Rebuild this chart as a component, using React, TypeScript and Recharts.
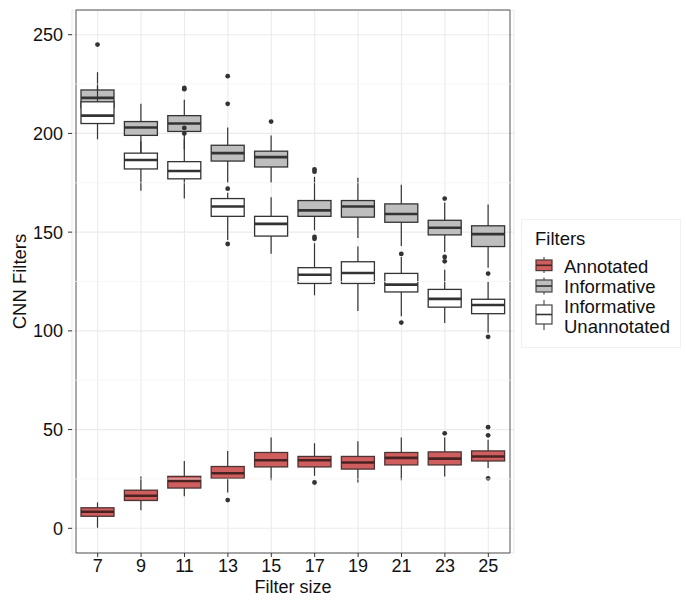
import React from "react";
import {
  ComposedChart,
  Bar,
  XAxis,
  YAxis,
  CartesianGrid,
  ReferenceLine,
  ReferenceArea,
} from "recharts";

// filter sizes on the x axis
const categories = ["7", "9", "11", "13", "15", "17", "19", "21", "23", "25"];

// five-number summaries: [lower whisker, q1, median, q3, upper whisker]
const annotated = [
  [0.3, 6.1, 8.4, 10.4, 13.1],
  [9.2, 14.1, 16.5, 19.3, 26.3],
  [16.2, 20.4, 24, 26.3, 34.1],
  [18.2, 25.3, 27.9, 31.3, 39.2],
  [24.4, 31.1, 34.5, 38.4, 46],
  [26.6, 31.1, 34.5, 36.4, 43.1],
  [23.2, 30, 33.3, 36.4, 44.1],
  [24.4, 32.1, 35.7, 38.4, 46],
  [26.3, 32.1, 35.3, 38.7, 46],
  [30.5, 34.1, 36.4, 39.2, 44.8],
];
const annotatedOut = [[], [], [], [14.3], [], [23.2], [], [], [48.1], [51.2, 47.1, 25.3]];

const informative = [
  [205, 213, 218, 222, 231],
  [190, 199, 203, 206, 215],
  [192, 201, 205, 209, 217],
  [175, 186, 190, 194, 203],
  [175, 183, 188, 191, 199],
  [151, 158, 161, 166, 178],
  [147, 157.6, 163, 166, 177.6],
  [143, 155, 159.2, 164.3, 174],
  [140, 148.6, 152.2, 156, 165],
  [132, 142.7, 149, 153.2, 164],
];
const informativeOut = [[245], [], [223, 222.4], [229, 215, 172], [206], [181.8, 180.6], [], [], [167, 137.4, 135.2], []];

const unannotated = [
  [197, 205, 209, 216, 224],
  [171, 182, 186.5, 190, 196],
  [167, 177, 181, 185.7, 197],
  [146, 158, 163, 167, 170],
  [139, 148, 154.2, 158, 167.7],
  [118, 124, 128.4, 132, 144.4],
  [110, 124, 129.3, 135, 142.7],
  [107.4, 119.7, 123.4, 129.1, 137.4],
  [104, 112, 116.2, 121, 131],
  [99, 108.7, 113.1, 116, 124.7],
];
const unannotatedOut = [[], [], [202.8, 200], [144], [], [146.6, 147.6], [], [139, 104.2], [], [129, 97]];

const yTicks = [0, 50, 100, 150, 200, 250];
const minorTicks = [25, 75, 125, 175, 225];

const data = categories.map((size, i) => ({
  size,
  a: annotated[i],
  aOut: annotatedOut[i],
  i: informative[i],
  iOut: informativeOut[i],
  u: unannotated[i],
  uOut: unannotatedOut[i],
}));

const FONT = '"Liberation Sans", Arial, Helvetica, sans-serif';

const makeBox = (key: string, fill: string, stroke: string, medianStroke: string) => (p: any) => {
  const s = p.payload[key];
  const out: number[] = p.payload[key + "Out"];
  const top = Math.min(p.y, p.y + p.height);
  const h = Math.abs(p.height);
  const per = h / (s[4] - s[0]);
  const py = (v: number) => top + (s[4] - v) * per;
  const cx = p.x + p.width / 2;
  return (
    <g>
      <line x1={cx} x2={cx} y1={py(s[4])} y2={py(s[0])} stroke="#333" strokeWidth={1.2} />
      <rect
        x={p.x}
        y={py(s[3])}
        width={p.width}
        height={py(s[1]) - py(s[3])}
        fill={fill}
        stroke={stroke}
        strokeWidth={1.3}
      />
      <line x1={p.x} x2={p.x + p.width} y1={py(s[2])} y2={py(s[2])} stroke={medianStroke} strokeWidth={2.6} />
      {out.map((v, k) => (
        <circle key={k} cx={cx} cy={py(v)} r={2.4} fill="#333" />
      ))}
    </g>
  );
};

const Legend = () => (
  <svg width={160} height={130} style={{ position: "absolute", left: 521, top: 219 }}>
    <rect x={0.5} y={0.5} width={159} height={128} fill="#fff" stroke="#f0f0f0" />
    <text x={14} y={25.6} fontSize={18.5} fill="#111">Filters</text>
    {/* annotated key */}
    <line x1={23} x2={23} y1={38} y2={54} stroke="#555" strokeWidth={1.2} />
    <rect x={15} y={41} width={16} height={10.6} fill="#CF5F5F" stroke="#4d3333" strokeWidth={1.2} />
    <line x1={15} x2={31} y1={46.3} y2={46.3} stroke="#4a2222" strokeWidth={1.6} />
    {/* informative key */}
    <line x1={23} x2={23} y1={58.5} y2={75.5} stroke="#555" strokeWidth={1.2} />
    <rect x={15} y={61} width={16} height={12} fill="#BEBEBE" stroke="#444" strokeWidth={1.2} />
    <line x1={15} x2={31} y1={67} y2={67} stroke="#333" strokeWidth={1.6} />
    {/* unannotated key */}
    <line x1={23} x2={23} y1={81} y2={111} stroke="#555" strokeWidth={1.2} />
    <rect x={15} y={86} width={16} height={19} fill="#fff" stroke="#444" strokeWidth={1.2} />
    <line x1={15} x2={31} y1={95.5} y2={95.5} stroke="#333" strokeWidth={1.6} />
    <text x={43} y={53.6} fontSize={18.5} fill="#111">Annotated</text>
    <text x={43} y={73.6} fontSize={18.5} fill="#111">Informative</text>
    <text x={43} y={93.6} fontSize={18.5} fill="#111">Informative</text>
    <text x={43} y={113.6} fontSize={18.5} fill="#111">Unannotated</text>
  </svg>
);

export default function App() {
  return (
    <div style={{ position: "relative", width: 686, height: 604, fontFamily: FONT, background: "#fff" }}>
      <style>{`body{margin:0}`}</style>
      <ComposedChart
        width={686}
        height={604}
        data={data}
        margin={{ top: 10, right: 172, bottom: 0, left: 0 }}
      >
        <CartesianGrid stroke="#EBEBEB" strokeWidth={1.1} xAxisId="a" />
        {minorTicks.map((t) => (
          <ReferenceLine key={t} y={t} xAxisId="a" stroke="#F3F3F3" strokeWidth={0.7} />
        ))}
        <XAxis
          xAxisId="a"
          dataKey="size"
          height={51}
          padding={{ left: 4, right: 4 }}
          axisLine={false}
          tickSize={4}
          tickMargin={2}
          tickLine={{ stroke: "#333" }}
          tick={{ fontSize: 18, fill: "#111" }}
          interval={0}
          label={{
            content: (lp: any) => {
              const vb = lp.viewBox;
              return (
                <text x={vb.x + vb.width / 2} y={593} textAnchor="middle" fontSize={18} fill="#111">
                  Filter size
                </text>
              );
            },
          }}
        />
        <XAxis xAxisId="i" dataKey="size" hide padding={{ left: 4, right: 4 }} />
        <XAxis xAxisId="u" dataKey="size" hide padding={{ left: 4, right: 4 }} />
        <YAxis
          type="number"
          width={72}
          domain={[-12.5, 262.5]}
          allowDataOverflow
          ticks={yTicks}
          interval={0}
          axisLine={false}
          tickSize={4}
          tickMargin={5}
          tickLine={{ stroke: "#333" }}
          tick={{ fontSize: 18, fill: "#111" }}
          label={{
            content: (lp: any) => {
              const vb = lp.viewBox;
              const cy = vb.y + vb.height / 2;
              return (
                <text
                  x={25.5}
                  y={cy}
                  transform={`rotate(-90 25.5 ${cy})`}
                  textAnchor="middle"
                  fontSize={18.5}
                  fill="#111"
                >
                  CNN Filters
                </text>
              );
            },
          }}
        />
        <Bar
          xAxisId="a"
          dataKey={(d: any) => [d.a[0], d.a[4]]}
          barSize={33}
          isAnimationActive={false}
          shape={makeBox("a", "#CF5F5F", "#4d3333", "#4a2222")}
        />
        <Bar
          xAxisId="i"
          dataKey={(d: any) => [d.i[0], d.i[4]]}
          barSize={33}
          isAnimationActive={false}
          shape={makeBox("i", "#BEBEBE", "#333", "#333")}
        />
        <Bar
          xAxisId="u"
          dataKey={(d: any) => [d.u[0], d.u[4]]}
          barSize={33}
          isAnimationActive={false}
          shape={makeBox("u", "#FFFFFF", "#333", "#333")}
        />
        <ReferenceArea xAxisId="a" y1={-12.5} y2={262.5} fill="none" stroke="#555" strokeWidth={1} />
      </ComposedChart>
      <Legend />
    </div>
  );
}
